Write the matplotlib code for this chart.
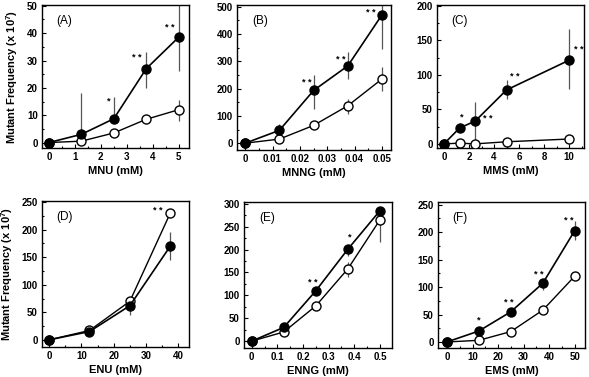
import matplotlib
matplotlib.use("Agg")
import matplotlib.pyplot as plt
from matplotlib.ticker import AutoMinorLocator, MultipleLocator

plt.rcParams['font.family'] = ['Liberation Sans', 'DejaVu Sans']
plt.rcParams['font.weight'] = 'bold'
plt.rcParams['mathtext.fontset'] = 'custom'
plt.rcParams['mathtext.rm'] = 'Liberation Sans:bold'
plt.rcParams['mathtext.bf'] = 'Liberation Sans:bold'

# Panel A: MNU
a_x = [0, 1.25, 2.5, 3.75, 5]
a_fill = [0, 3, 8.7, 27, 38.5]
a_fill_lo = [0, 0, 0, 7, 12.5]
a_fill_hi = [0, 15, 8, 6, 14]
a_open = [0, 0.5, 3.5, 8.5, 12]
a_open_lo = [0, 0, 0, 0, 4]
a_open_hi = [0, 0, 0, 0, 3.5]
a_stars = ['', '', '*', '* *', '* *']

# Panel B: MNNG
b_x = [0, 0.0125, 0.025, 0.0375, 0.05]
b_fill = [0, 47, 193, 283, 470]
b_fill_lo = [0, 0, 68, 48, 125]
b_fill_hi = [0, 23, 57, 50, 50]
b_open = [0, 15, 65, 137, 235]
b_open_lo = [0, 0, 0, 29, 45]
b_open_hi = [0, 0, 0, 23, 43]
b_stars = ['', '', '* *', '* *', '* *']

# Panel C: MMS
c_x = [0, 1.25, 2.5, 5, 10]
c_fill = [0, 23, 33, 78, 121]
c_fill_lo = [0, 0, 33, 13, 42]
c_fill_hi = [0, 7, 27, 14, 45]
c_open = [0, 1, 0, 3, 7]
c_open_lo = [0, 0, 0, 0, 0]
c_open_hi = [0, 0, 0, 0, 0]
c_stars = ['', '*', '* *', '* *', '* *']

# Panel D: ENU
d_x = [0, 12.5, 25, 37.5]
d_fill = [0, 15, 62, 170]
d_fill_lo = [0, 5, 17, 25]
d_fill_hi = [0, 3, 6, 25]
d_open = [0, 17, 70, 230]
d_open_lo = [0, 0, 0, 0]
d_open_hi = [0, 0, 0, 0]
d_stars = ['', '', '', '* *']

# Panel E: ENNG
e_x = [0, 0.125, 0.25, 0.375, 0.5]
e_fill = [0, 30, 110, 201, 285]
e_fill_lo = [0, 0, 0, 14, 0]
e_fill_hi = [0, 0, 0, 0, 0]
e_open = [0, 20, 77, 158, 265]
e_open_lo = [0, 0, 10, 18, 48]
e_open_hi = [0, 0, 0, 15, 0]
e_stars = ['', '', '* *', '*', '']

# Panel F: EMS
f_x = [0, 12.5, 25, 37.5, 50]
f_fill = [0, 20, 55, 107, 203]
f_fill_lo = [0, 0, 0, 12, 18]
f_fill_hi = [0, 0, 0, 0, 17]
f_open = [0, 3, 19, 58, 120]
f_open_lo = [0, 0, 0, 0, 0]
f_open_hi = [0, 0, 0, 0, 8]
f_stars = ['', '*', '* *', '* *', '* *']

W, H = 589, 377
fig = plt.figure(figsize=(W / 100, H / 100), dpi=100)


def add_axes(l, t, r, b):
    return fig.add_axes([l / W, 1 - b / H, (r - l) / W, (b - t) / H])


panels = [
    dict(box=(42, 5, 189, 148), x=a_x, f=a_fill, flo=a_fill_lo, fhi=a_fill_hi,
         o=a_open, olo=a_open_lo, ohi=a_open_hi, stars=a_stars, label='(A)',
         xlabel='MNU (mM)', xlim=(-0.27, 5.4), ylim=(-2, 50.3), ymaj=10,
         xticks=[0, 1, 2, 3, 4, 5], ylab=True,
         star_dx=[0, 0, -0.2, -0.37, -0.33], star_y=[0, 0, 15, 31, 42]),
    dict(box=(237, 5, 391, 150), x=b_x, f=b_fill, flo=b_fill_lo, fhi=b_fill_hi,
         o=b_open, olo=b_open_lo, ohi=b_open_hi, stars=b_stars, label='(B)',
         xlabel='MNNG (mM)', xlim=(-0.003, 0.0533), ylim=(-25, 506), ymaj=100,
         xticks=[0, 0.01, 0.02, 0.03, 0.04, 0.05], ylab=False,
         star_dx=[0, 0, -0.0024, -0.0026, -0.004], star_y=[0, 0, 224, 305, 478]),
    dict(box=(437, 5, 584, 148), x=c_x, f=c_fill, flo=c_fill_lo, fhi=c_fill_hi,
         o=c_open, olo=c_open_lo, ohi=c_open_hi, stars=c_stars, label='(C)',
         xlabel='MMS (mM)', xlim=(-0.56, 11.2), ylim=(-6, 201), ymaj=50,
         xticks=[0, 2, 4, 6, 8, 10], ylab=False,
         star_dx=[0, 0.2, 1.0, 0.7, 0.75], star_y=[0, 39, 36, 98, 137]),
    dict(box=(42, 201, 189, 347), x=d_x, f=d_fill, flo=d_fill_lo, fhi=d_fill_hi,
         o=d_open, olo=d_open_lo, ohi=d_open_hi, stars=d_stars, label='(D)',
         xlabel='ENU (mM)', xlim=(-2.2, 43.3), ylim=(-13, 252), ymaj=50,
         xticks=[0, 10, 20, 30, 40], ylab=True,
         star_dx=[0, 0, 0, -4.0, 0], star_y=[0, 0, 0, 234, 0]),
    dict(box=(244, 202, 392, 348), x=e_x, f=e_fill, flo=e_fill_lo, fhi=e_fill_hi,
         o=e_open, olo=e_open_lo, ohi=e_open_hi, stars=e_stars, label='(E)',
         xlabel='ENNG (mM)', xlim=(-0.03, 0.547), ylim=(-15, 304), ymaj=50,
         xticks=[0, 0.1, 0.2, 0.3, 0.4, 0.5], ylab=False,
         star_dx=[0, 0, -0.012, 0.008, 0], star_y=[0, 0, 129, 228, 0]),
    dict(box=(438, 202, 585, 348), x=f_x, f=f_fill, flo=f_fill_lo, fhi=f_fill_hi,
         o=f_open, olo=f_open_lo, ohi=f_open_hi, stars=f_stars, label='(F)',
         xlabel='EMS (mM)', xlim=(-3.5, 54), ylim=(-11, 255), ymaj=50,
         xticks=[0, 10, 20, 30, 40, 50], ylab=False,
         star_dx=[0, 0, -0.8, -1.5, -2.3], star_y=[0, 40, 72, 123, 221]),
]

for p in panels:
    ax = add_axes(*p['box'])
    ax.errorbar(p['x'], p['o'], yerr=[p['olo'], p['ohi']], fmt='none',
                ecolor='#555555', elinewidth=0.9, capsize=0, zorder=2)
    ax.errorbar(p['x'], p['f'], yerr=[p['flo'], p['fhi']], fmt='none',
                ecolor='#555555', elinewidth=0.9, capsize=0, zorder=2)
    ax.plot(p['x'], p['o'], '-o', color='black', mfc='white', mec='black',
            mew=1.0, ms=6.5, lw=1.0, zorder=3)
    ax.plot(p['x'], p['f'], '-o', color='black', mfc='black', mec='black',
            ms=6.5, lw=1.2, zorder=4)
    for xi, s, dx, sy in zip(p['x'], p['stars'], p['star_dx'], p['star_y']):
        if s:
            ax.text(xi + dx, sy, s, ha='center', va='center', fontsize=6.5,
                    fontweight='bold', zorder=5)
    ax.set_xlim(*p['xlim'])
    ax.set_ylim(*p['ylim'])
    ax.set_xticks(p['xticks'])
    ax.set_xticklabels(['{:g}'.format(t) for t in p['xticks']])
    ax.yaxis.set_major_locator(MultipleLocator(p['ymaj']))
    ax.xaxis.set_minor_locator(AutoMinorLocator(2))
    ax.yaxis.set_minor_locator(AutoMinorLocator(2))
    ax.tick_params(which='both', direction='in', top=False, right=False,
                   labelsize=7, width=0.8, pad=3)
    ax.tick_params(which='major', length=3)
    ax.tick_params(which='minor', length=1.5)
    for lab in ax.get_xticklabels() + ax.get_yticklabels():
        lab.set_fontweight('bold')
    for sp in ax.spines.values():
        sp.set_linewidth(1.0)
    ax.text(0.1, 0.93, p['label'], transform=ax.transAxes, ha='left', va='top',
            fontsize=8.5, fontweight='normal')
    ax.set_xlabel(p['xlabel'], fontsize=8, fontweight='bold', labelpad=3)
    if p['ylab']:
        ax.set_ylabel(r'Mutant Frequency (x 10$^{7}$)', fontsize=8,
                      fontweight='bold', labelpad=5)

fig.savefig('out.png', dpi=100)
